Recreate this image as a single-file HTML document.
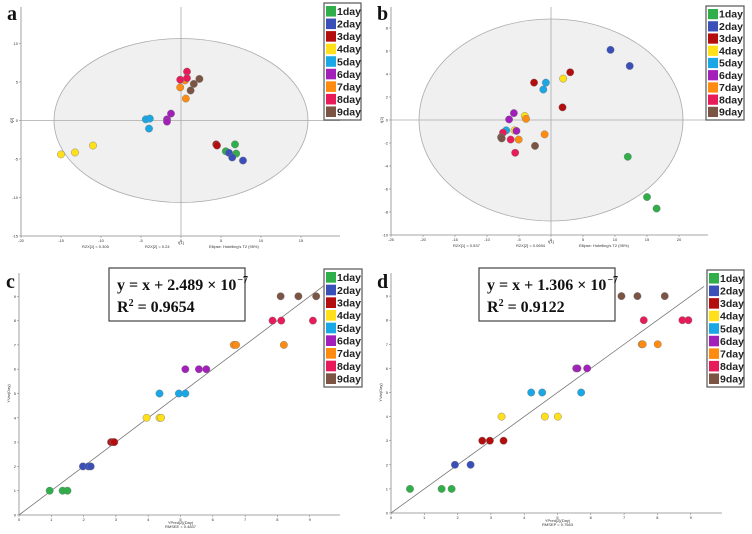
<!DOCTYPE html>
<html><head><meta charset="utf-8">
<style>
body{margin:0;background:#fff;}
svg{display:block;font-family:"Liberation Sans",sans-serif;}
</style></head>
<body>
<svg id="fig" width="752" height="534" viewBox="0 0 752 534" xmlns="http://www.w3.org/2000/svg"></svg>
<script>
const days = ["1day","2day","3day","4day","5day","6day","7day","8day","9day"];
const colors = ["#2fae4a","#3a4fb8","#b30d0d","#ffe01a","#1aa7e6","#a21fb9","#ff8c10","#e81b5a","#7b5444"];
// Panel a (PCA scores) t1, t2 per day
const aX = [[6.75,5.6,6.9],[6.0,6.4,7.75],[4.4,4.5],[-15,-13.25,-11],[-4.4,-3.9,-4.0],[-1.75,-1.75,-1.25],[0.5,-0.1,0.6],[0.75,-0.1,0.75],[2.3,1.6,1.2]];
const aY = [[-3.1,-4.0,-4.3],[-4.2,-4.8,-5.2],[-3.1,-3.25],[-4.4,-4.15,-3.25],[0.15,0.25,-1.05],[0.15,-0.15,0.9],[5.2,4.3,2.85],[6.35,5.3,5.5],[5.4,4.75,3.9]];
const aXTicks = [-20,-15,-10,-5,0,5,10,15];
const aYTicks = [10,5,0,-5,-10,-15];
// Panel b
const bX = [[12.0,15.0,16.5],[9.3,12.3],[-2.65,3.0,1.8],[1.9,-4.1,-5.7],[-0.8,-1.2,-7.0],[-5.8,-6.55,-5.4],[-3.9,-1.0,-5.05],[-7.5,-6.3,-5.6],[-7.8,-7.7,-2.5]];
const bY = [[-3.2,-6.7,-7.7],[6.1,4.7],[3.25,4.15,1.1],[3.6,0.35,-0.9],[3.25,2.65,-0.9],[0.6,0.05,-0.95],[0.1,-1.25,-1.7],[-1.1,-1.7,-2.85],[-1.5,-1.6,-2.25]];
const bXTicks = [-25,-20,-15,-10,-5,0,5,10,15,20];
const bYTicks = [8,6,4,2,0,-2,-4,-6,-8,-10];
// Panel c (predicted vs observed)
const cX = [[0.95,1.35,1.5],[1.98,2.15,2.22],[2.85,2.9,2.95],[3.95,4.35,4.4],[4.35,4.95,5.15],[5.15,5.57,5.8],[6.65,6.72,8.2],[7.85,8.12,9.1],[8.1,8.65,9.2]];
const dX = [[0.57,1.52,1.82],[1.92,2.39],[2.74,2.97,3.38],[3.32,4.62,5.01],[4.21,4.54,5.71],[5.56,5.6,5.89],[7.53,7.56,8.01],[7.59,8.75,8.93],[6.92,7.4,8.22]];
const regTicks = [0,1,2,3,4,5,6,7,8,9];

const NS="http://www.w3.org/2000/svg";
const svg=document.getElementById('fig');
function mk(tag,attrs,parent){const e=document.createElementNS(NS,tag);for(const k in attrs)e.setAttribute(k,attrs[k]);(parent||svg).appendChild(e);return e;}
function txt(s,x,y,size,attrs,parent){const t=mk('text',Object.assign({x:x,y:y,'font-size':size,fill:'#333'},attrs||{}),parent);t.textContent=s;return t;}

function legend(x,y,w,h,pfx){
  const g=mk('g',{});
  
  
  mk('rect',{x:x,y:y,width:w,height:h,fill:'#fff',stroke:'#555','stroke-width':1.2},g);
  const step=(h-4)/9;
  days.forEach((d,i)=>{
    const eg=mk('g',{},g);
    
    
    mk('rect',{x:x+2,y:y+2+i*step+1,width:10,height:step-2,fill:colors[i]},eg);
    txt(d,x+13,y+2+i*step+step-2.5,10.5,{'font-weight':'bold',fill:'#222'},eg);
  });
}

function scoreLabel(s,x,y,pfx){
  const t=txt(s,x,y,20,{'font-family':'Liberation Serif, serif','font-weight':'bold',fill:'#111'});
  
  
}

function pcaPanel(pfx,X,Y,xt,yt,ax){
  const sx=v=>ax.x0+(v-ax.xmin)*ax.kx, sy=v=>ax.y0-(v-ax.ymin)*ax.ky;
  const g=mk('g',{});
  
  
  const el=mk('ellipse',{cx:sx(0),cy:sy(0),rx:ax.rx,ry:ax.ry,fill:'#f0f0f0',stroke:'#aaa','stroke-width':0.8},g);
  
  
  mk('line',{x1:ax.x0,y1:ax.y0,x2:ax.xend,y2:ax.y0,stroke:'#888','stroke-width':0.8},g);
  mk('line',{x1:ax.x0,y1:ax.y0,x2:ax.x0,y2:ax.ytop,stroke:'#888','stroke-width':0.8},g);
  mk('line',{x1:ax.x0,y1:sy(0),x2:ax.xend,y2:sy(0),stroke:'#aaa','stroke-width':0.8},g);
  mk('line',{x1:sx(0),y1:ax.ytop,x2:sx(0),y2:ax.y0,stroke:'#aaa','stroke-width':0.8},g);
  xt.forEach(v=>{mk('line',{x1:sx(v),y1:ax.y0,x2:sx(v),y2:ax.y0+2,stroke:'#888','stroke-width':0.6},g);txt(String(v),sx(v),ax.y0+6,4,{'text-anchor':'middle'},g);});
  yt.forEach(v=>{mk('line',{x1:ax.x0-2,y1:sy(v),x2:ax.x0,y2:sy(v),stroke:'#888','stroke-width':0.6},g);txt(String(v),ax.x0-3,sy(v)+1.5,4,{'text-anchor':'end'},g);});
  txt('t[1]',sx(0),ax.y0+8,4,{'text-anchor':'middle'},g);
  txt('t[2]',ax.x0-8,sy(0),4,{'text-anchor':'middle',transform:'rotate(-90 '+(ax.x0-8)+' '+sy(0)+')'},g);
  ax.notes.forEach(n=>txt(n[0],n[1],ax.y0+12,4,{},g));
  X.forEach((arr,i)=>arr.forEach((v,j)=>{
    const c=mk('circle',{cx:sx(v),cy:sy(Y[i][j]),r:3.7,fill:colors[i],stroke:'#777','stroke-width':0.4},g);
    
    
  }));
}

function regPanel(pfx,X,ax,eq,r2,box){
  const sx=v=>ax.x0+v*ax.kx, sy=v=>ax.y0-v*ax.ky;
  const g=mk('g',{});
  
  
  mk('line',{x1:ax.x0,y1:ax.y0,x2:ax.xend,y2:ax.y0,stroke:'#888','stroke-width':0.8},g);
  mk('line',{x1:ax.x0,y1:ax.y0,x2:ax.x0,y2:ax.ytop,stroke:'#888','stroke-width':0.8},g);
  regTicks.forEach(v=>{
    mk('line',{x1:sx(v),y1:ax.y0,x2:sx(v),y2:ax.y0+2,stroke:'#888','stroke-width':0.6},g);txt(String(v),sx(v),ax.y0+6,4,{'text-anchor':'middle'},g);
    mk('line',{x1:ax.x0-2,y1:sy(v),x2:ax.x0,y2:sy(v),stroke:'#888','stroke-width':0.6},g);txt(String(v),ax.x0-3,sy(v)+1.5,4,{'text-anchor':'end'},g);
  });
  txt('YPred[2](Day)',sx(5),ax.y0+9,4,{'text-anchor':'middle'},g);
  txt(ax.note,sx(5),ax.y0+13,4,{'text-anchor':'middle'},g);
  txt('YVar(Day)',ax.x0-9,sy(5),4,{'text-anchor':'middle',transform:'rotate(-90 '+(ax.x0-9)+' '+sy(5)+')'},g);
  const ln=mk('line',{x1:sx(0),y1:sy(0),x2:sx(ax.lend),y2:sy(ax.lend),stroke:'#777','stroke-width':0.8},g);
  
  
  X.forEach((arr,i)=>arr.forEach(v=>{
    const c=mk('circle',{cx:sx(v),cy:sy(i+1),r:3.7,fill:colors[i],stroke:'#777','stroke-width':0.4},g);
    
    
  }));
  const bg=mk('g',{});
  
  
  mk('rect',{x:box[0],y:box[1],width:box[2],height:box[3],fill:'#fff',stroke:'#444','stroke-width':1.2},bg);
  const t1=txt('',box[0]+8,box[1]+22,16,{'font-family':'Liberation Serif, serif','font-weight':'bold',fill:'#111'},bg);
  t1.innerHTML=eq+' × 10<tspan dx="1" dy="-7" font-size="10">−7</tspan>';
  const t2=txt('',box[0]+8,box[1]+44,16,{'font-family':'Liberation Serif, serif','font-weight':'bold',fill:'#111'},bg);
  t2.innerHTML='R<tspan dy="-6" font-size="10">2</tspan><tspan dy="6"> = '+r2+'</tspan>';
}

pcaPanel('a',aX,aY,aXTicks,aYTicks,{x0:21,y0:236,xmin:-20,ymin:-15,kx:8,ky:7.7,xend:340,ytop:7,rx:127,ry:82,
  notes:[['R2X[1] = 0.305',82],['R2X[2] = 0.24',145],["Ellipse: Hotelling's T2 (95%)",209]]});
pcaPanel('b',bX,bY,bXTicks,bYTicks,{x0:391,y0:235,xmin:-25,ymin:-10,kx:6.4,ky:11.5,xend:708,ytop:7,rx:132,ry:101,
  notes:[['R2X[1] = 0.537',453],['R2X[2] = 0.0694',516],["Ellipse: Hotelling's T2 (95%)",579]]});
regPanel('c',cX,{x0:19,y0:515,kx:32.3,ky:24.3,xend:340,ytop:273,lend:9.7,note:'RMSEE = 0.4837'},'y = x + 2.489','0.9654',[109,268,136,53]);
regPanel('d',dX,{x0:391,y0:513,kx:33.3,ky:24.1,xend:722,ytop:273,lend:9.4,note:'RMSEP = 0.7563'},'y = x + 1.306','0.9122',[479,268,136,53]);

legend(324,3,37,117,'a');
legend(706,6,38,114,'b');
legend(324,269,38,118,'c');
legend(707,270,37,117,'d');
scoreLabel('a',7,20,'a');
scoreLabel('b',377,20,'b');
scoreLabel('c',6,288,'c');
scoreLabel('d',377,288,'d');
</script>
</body></html>
